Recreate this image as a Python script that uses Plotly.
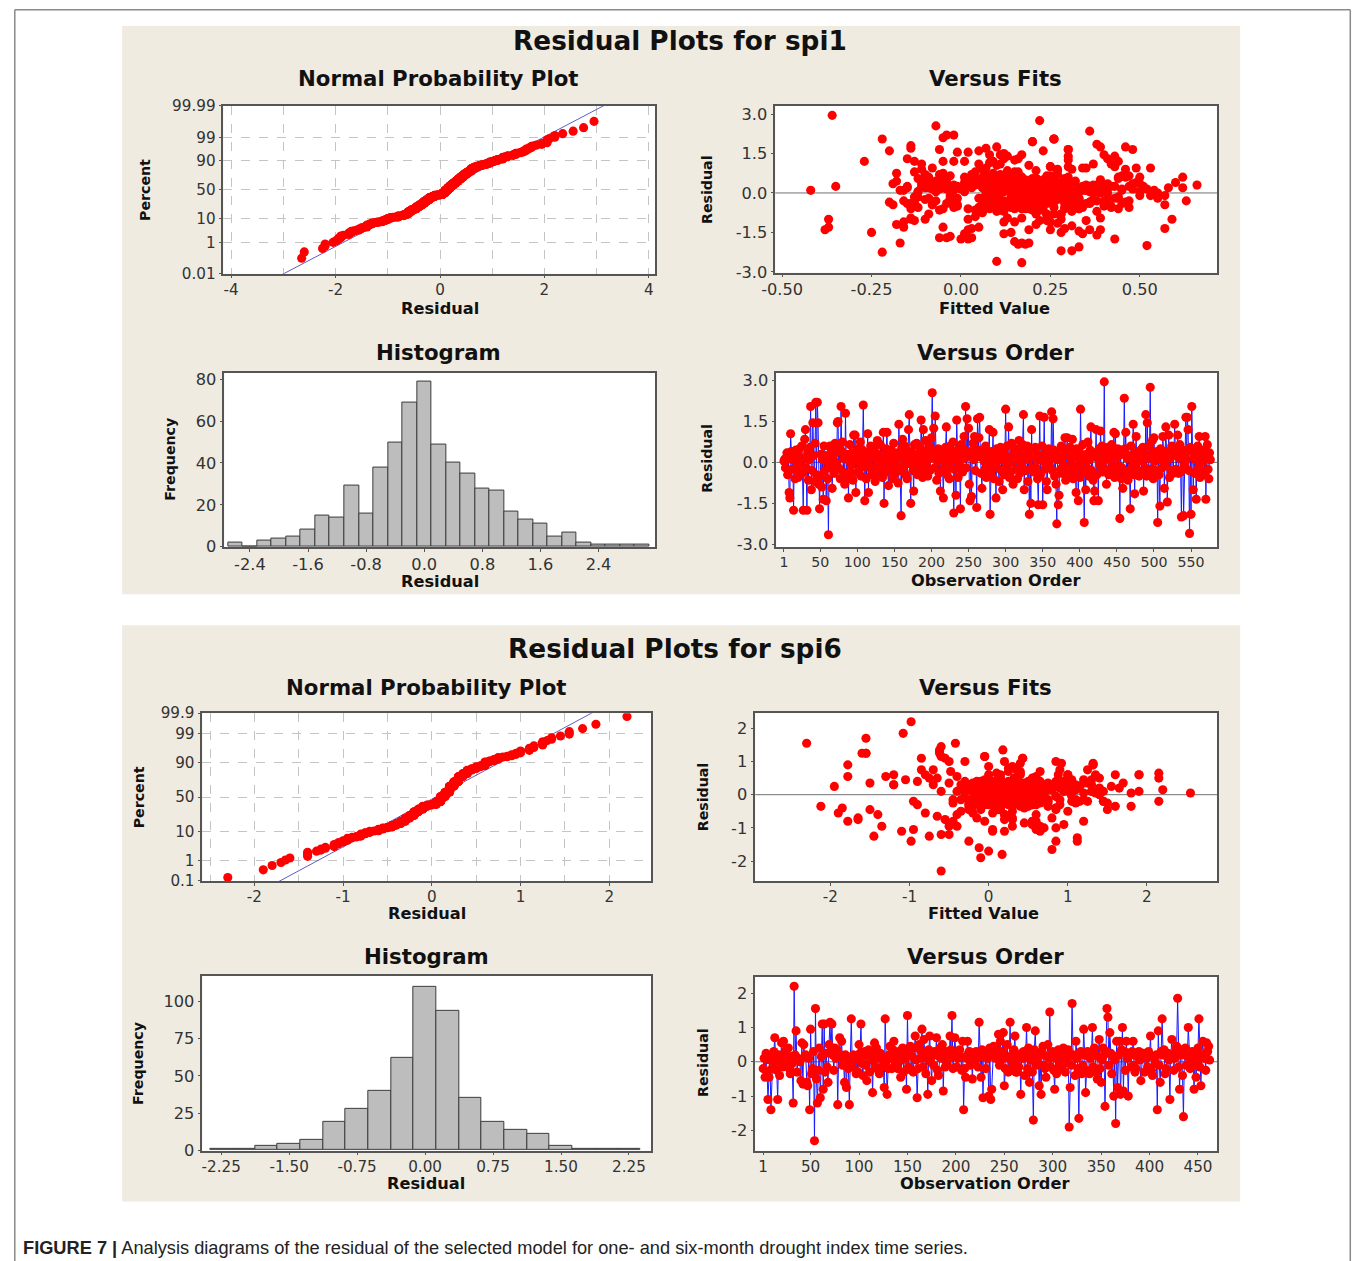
import plotly.graph_objects as go
from statistics import NormalDist, mean, stdev

# Layout is specified in target-image pixels (X, Y) and mapped onto the figure.
# The page photograph places the figure at (AX, AY) with a slight uniform shrink; compensate for it.
AX, AY, SX, SY = 15.0, 8.0, 0.988, 0.987
W = 1358
H = 1270
ND = NormalDist()
FONT = "DejaVu Sans"

# ---------------- data (residuals / fitted values in hundredths) ----------------
spi1_resid_x100 = [
    5, 12, -20, 8, 35, -45, 15, -110, -130, 105, 40, -25, 10, -175, 30, -60, 45, 20, -15, -55, 25, 50, -35, 0,
    60, -40, -175, 15, 85, 120, -20, -175, 35, -65, 10, 55, 205, -100, -30, 145, 25, -70, 70, 220, -45, 220, 145, -80,
    -170, -50, 30, -90, 10, -135, 60, -30, 25, -140, 5, -60, -265, 15, 60, -20, 45, -95, 25, 10, -40, 70, 35, -5,
    145, 150, -20, 55, -60, 205, 40, 75, -35, 15, -80, 180, 20, -55, 30, -130, 5, 65, -40, -10, 35, -65, 100, 10,
    100, -110, 25, -35, 50, 5, -25, 75, -50, 20, 45, 210, -15, -140, 30, -60, 10, 105, -110, 40, -20, 60, -45, 15,
    -30, 55, 20, -70, 35, -10, 80, 0, -45, 25, 65, -25, 10, -55, 110, -150, 40, -5, 50, 110, -35, -85, 15, 30,
    -20, 45, 5, -60, 70, 20, -40, 15, -10, 35, -75, 140, 25, -30, -195, 55, 85, -15, 10, 60, -45, 30, -60, 5,
    120, 175, -5, -150, 40, 20, -30, -105, 65, 10, -20, 70, -45, 30, 0, 55, -25, 155, 35, -55, 120, 15, -35, 80,
    -10, 45, -50, 25, 60, -30, 15, 90, 255, 40, 125, -20, 170, 35, -65, 5, 50, -40, 20, -105, 45, 10, -30, -130,
    30, -15, 55, 130, -45, 20, 5, -60, 60, 40, -20, 10, 75, -185, -25, 35, -120, 155, 45, -55, 20, -10, -170, 65,
    25, -35, 50, 95, 15, 205, -20, 160, 30, 125, -80, -140, 40, -125, 20, 70, 10, 95, -30, 35, -165, 160, 45, 90,
    165, 20, -40, -95, 25, 45, 5, -25, 60, -55, 15, -15, 30, 120, -190, -35, 40, 10, 110, -60, 25, -10, -130, 50,
    -20, 35, -70, 15, 55, -30, 10, -100, 45, -45, 25, 195, -15, 60, 5, 130, -55, 20, -35, 70, 0, -80, 40, 15,
    30, -25, 50, -60, 15, 80, -40, 5, 35, -15, 65, 175, -100, 20, -30, 45, 60, -70, 10, -190, 25, -150, 120, -20,
    40, -35, 15, 55, -20, 30, -60, -155, 10, 170, -45, 25, 60, -155, 5, 165, -25, 40, -70, -100, 20, 50, -10, 30,
    15, 185, -30, 160, 45, -50, 25, -80, -225, 10, -155, -120, 35, -25, 60, -40, 20, -10, 50, 90, -65, 30, 90, -35,
    25, -45, 55, -20, 10, 85, -60, 35, -30, -15, -110, 50, 20, -140, 40, -55, 195, 5, -25, 65, -35, -220, 15, -100,
    30, -20, 75, -50, 10, 45, 130, -30, 20, -65, -140, -105, 35, 120, -45, 15, -140, 50, -10, 115, 25, 60, -35, 5,
    295, -25, 40, -80, 15, 55, -45, 40, 10, -30, 65, -15, 35, 110, -55, 105, 20, -35, 50, -10, 25, -205, 45, -60,
    -20, -95, 30, 235, 50, 110, -40, 15, -65, 25, -30, -170, 60, 10, -15, 140, -45, -115, 35, 95, -25, 30, 5, -50,
    20, 45, -35, 10, 55, -105, 30, -20, 175, -50, 145, 15, -40, 60, 275, -25, 35, 80, -60, 90, 5, -30, 20, 40,
    -220, 25, -45, -160, 50, 10, -20, 95, 35, -95, -10, 130, 40, -145, 20, 100, -55, 15, -30, 60, 25, -40, 45, 140,
    30, -25, 50, 100, -40, 15, 65, -35, -200, 20, 45, -195, -10, 35, 165, 10, 165, 120, -30, -260, 55, -190, 205, 40,
    -100, 25, -40, 10, -135, 30, 60, -20, 95, -55, 15, 45, -30, 40, 5, -45, 95, -135, 20, 65, -25, -60, 35, 10,
]
spi1_fit_x100 = [
    12, 20, 5, 15, 28, -8, 18, 25, -37, 10, 22, 14, 8, 0, 30, 2, 17, 24, 9, -12, 35, 16, 21, 11,
    6, 19, 2, 27, 13, -5, 33, 43, 15, 23, -2, 9, -22, -37, 26, 40, 14, 31, 7, -4, 18, -2, 11, 21,
    -6, 16, 38, 4, 20, 3, 12, 29, -15, -38, 24, 8, 17, 34, 1, 19, 26, 13, -35, 22, 6, -10, 15, 28,
    8, 12, 23, 44, 18, 26, 3, -18, 31, 10, 24, -14, 16, 5, 37, -16, 21, 14, 29, -3, 48, 11, 25, 19,
    30, 15, -9, 22, 7, 36, 17, 13, 40, 1, 25, -5, 20, 2, 9, 33, -42, 19, 12, 6, 28, 50, -1, 14,
    18, 4, 27, 10, -11, 21, 16, 41, 8, 23, -3, 32, 13, 47, 5, -25, 19, 26, 14, 37, 9, 24, 0, 15,
    22, -7, 14, 29, 3, 18, 35, 11, 25, -19, 6, 13, 42, 20, 16, 2, 27, 9, 54, 17, 31, -2, 12, 24,
    1, 10, 19, 28, 7, 33, 15, 22, 45, 12, 26, -6, 17, 4, 39, 21, 8, 2, 30, 14, -27, 23, 11, -13,
    17, 25, 9, 36, 13, 20, -4, 6, -7, 28, 15, 43, -14, 11, 22, 31, 3, 18, 58, 24, 10, 16, 38, 5,
    -8, 27, 2, -15, 32, 8, -12, 12, 46, 18, -1, 29, -5, 15, 37, 6, -18, -1, 11, 34, -10, 9, 3, 26,
    20, -13, 39, 7, -6, 26, 16, -20, 10, 30, -9, 19, 4, 31, -15, 27, 35, 49, 12, -4, -3, 5, 18, -11,
    30, 11, -14, 17, 43, 8, -7, 33, 14, -2, -8, 16, 22, 9, -17, 36, 1, 25, -11, 19, 51, 7, -5, 23,
    15, -10, 6, 21, 12, 40, -16, 2, 25, 10, -6, 20, 14, 44, -12, 16, 29, 3, -20, 11, 55, 26, 8, -3,
    22, 9, -11, 17, 26, 4, -4, 37, 13, -13, 7, 46, 28, -7, 33, 19, -9, 12, -17, 17, 41, 14, -2, 27,
    10, -8, 16, 29, 6, 35, -14, 12, 25, 7, -19, 47, 14, 1, 32, -6, 27, 19, 38, -10, 13, 3, 30, 15,
    26, 38, 11, 23, 19, 42, 8, 28, -22, 16, 34, 21, 5, 30, 13, 24, 62, 17, 9, 31, 20, 14, 27, 36,
    18, 7, -12, 14, 37, 21, -5, 3, 16, 44, -16, 11, 26, 36, -9, 8, 20, 33, -3, 24, 12, 28, 40, -14,
    13, -9, 9, 20, 32, -18, 41, 24, 6, -6, 25, 35, 11, -13, 22, 48, 39, 14, 53, 8, -1, 17, 30, 1,
    -36, 19, 12, 28, 45, 7, 23, 16, 34, 10, 25, 20, 3, 42, 31, 43, 14, 26, 18, 57, 9, 33, 22, 15,
    21, 39, -7, 36, 26, 11, -15, 19, 4, 24, 47, -4, 30, 8, -12, 43, 13, 27, 50, -8, 29, 10, 38, -1,
    16, -6, 9, 35, 20, -13, 24, 44, 39, -2, 17, 52, 12, 26, 22, -10, 41, 15, 33, 46, 7, -16, 18, 30,
    31, 14, -8, 38, 21, 45, -3, 34, 18, -14, 24, 12, 49, 33, -5, 43, 26, 20, 37, 8, -11, 40, 15, 30,
    22, 41, -4, 25, 36, 28, 14, 46, 52, -9, 32, 18, 50, 3, 48, 37, 30, 44, -7, 10, 21, 19, 26, 60,
    59, 34, 45, 20, 29, 66, 62, 55, 53, 42, 38, 24, 63, 31, 50, 57, 35, 57, 41, 47, 26, 44, 39, 33,
]
spi6_resid_x100 = [
    -20, 10, -45, 25, -30, -110, -45, 5, -140, -20, 15, 30, 70, 0, -25, -110, 20, -40, 10, 55, -15, 60,
    25, -10, 35, 5, 40, -20, -35, 15, -5, -120, 220, 20, 90, -30, 10, 5, 0, -55, 55, -65, 50, 15,
    20, -60, -70, 10, -140, 95, -35, -20, 30, -230, 155, -50, -120, -25, 40, -105, 15, 110, -80, 110, -30, 25,
    -15, -60, 50, 115, 30, 110, 20, -25, 40, 10, 35, -125, 25, 70, 15, 60, -10, -5, -60, 20, -75, 5,
    -20, -125, 10, 125, -15, 20, 5, 15, -35, 10, -30, 50, 25, 110, -5, -40, 20, 30, -10, -55, 15, 35,
    -30, 20, 5, -90, 30, 55, -15, 40, 10, -25, -35, 25, 15, 10, -10, -75, 125, 0, -95, -20, 20, 45,
    10, -20, 35, 60, -10, 15, -5, -20, 30, 25, -45, 5, 40, -30, 30, 10, -80, 135, -15, 20, 45, -25,
    15, -30, 40, 75, 5, -105, -20, 50, 10, 30, 95, -15, 65, 25, -35, 10, -95, 35, 75, 0, -55, 20,
    -10, 30, 20, 70, -25, -40, 15, 40, 10, 50, -85, 25, -15, 30, -5, 20, 10, 75, 35, 135, -20, 20,
    70, 25, -15, 10, 20, 35, 15, -25, 60, -140, -20, -45, 10, 60, 25, 30, -10, 20, -50, 15, 5, 25,
    30, 10, -15, 115, 20, -45, 35, -105, 15, 30, -20, 25, 10, -100, 40, -110, -80, 20, 45, 20, 10, 40,
    20, 80, -10, 60, 5, 30, 85, -70, -20, 15, 50, -30, 10, 115, -25, 20, -5, 35, 75, -30, -30, 10,
    -15, 20, -95, 25, 10, 30, -40, 15, 100, -20, 40, -60, 5, 25, -30, -170, 35, 90, -10, 5, 25, -70,
    20, -95, 30, 45, -10, -20, -45, 15, 50, 10, 145, -15, 20, 30, -25, -80, 10, -35, 25, 35, -10, 20,
    -20, 15, 40, -5, -30, 25, 10, 35, -190, -75, -10, 170, 20, 15, -40, 60, 10, -20, -165, 25, 30, -35,
    -10, 95, 20, -90, -25, 30, 15, -35, 10, 25, 100, -15, 40, 20, -30, -50, 15, 65, -20, -60, 5, 40,
    20, -130, 30, 155, 130, -10, 85, 25, -35, 15, -100, 5, -180, 60, -75, 20, 60, -95, 35, 100, -85, 30,
    -25, 60, 10, -100, 25, 20, -15, 30, 60, -10, -30, -20, 15, 25, 30, 5, -55, 10, 25, 15, -30, 20,
    10, -15, 30, 20, 75, -25, -40, 15, 10, -5, 20, -140, 90, -10, -60, 30, 125, 20, 35, -35, -20, 15,
    25, 5, -110, 20, 65, 15, -25, 10, 30, 45, 185, -15, -80, 20, 35, -40, -160, 25, 40, -10, 15, 100,
    15, -20, 10, 30, -10, -80, 25, -45, 5, 40, 125, -15, -70, 20, 60, 10, 20, -25, 55, 30, 45, 5,
]
spi6_fit_x100 = [
    35, -60, 12, 80, -25, 5, -150, 48, -98, 20, 110, -120, 65, 140, -45, -110, 30, -185, 95, -178, 0, 160,
    -195, 45, -150, 70, -10, 125, -212, 25, 85, -50, -98, 60, -178, 15, 105, -30, 55, -190, -130, -65, -75, 38,
    50, -140, -165, 130, 85, 40, 180, -5, -35, -60, -42, 100, -60, 65, 10, -95, 75, -85, 120, 43, -90, 20,
    90, -40, 215, -5, -120, -55, 30, 150, 5, 62, -20, -145, 115, 40, 78, 135, -15, 55, 28, 95, -55, 10,
    60, -75, 25, -160, 110, -30, 70, 45, 15, 100, -10, 32, 85, 43, 5, -25, 140, 20, 55, -80, 35, -50,
    25, 90, -15, 95, 50, 60, 120, -90, 35, 75, -20, 10, 55, 145, -5, -165, -155, 40, -135, 105, 65, 130,
    -40, 30, 85, -120, 45, 110, -10, 70, 20, 155, -25, 5, 95, 60, -70, 130, -178, -62, 35, 80, -105, 15,
    30, 0, 85, -85, 20, 60, 45, -65, 50, 25, 132, -35, 40, 10, 160, 70, -50, 15, 35, 55, 5, 65,
    50, 35, -20, 25, 15, 85, 40, -30, 70, 140, 45, 10, -45, 100, 60, 5, 30, -70, 75, 18, -95, 40,
    -48, 20, 70, -10, 40, 170, 10, 35, 190, 112, 55, 15, 25, -80, 90, 0, 45, 65, 30, 40, 135, 15,
    -25, 45, 25, -5, 75, -10, 35, 5, 60, 10, 145, 40, -30, 85, 50, 20, -45, 165, -5, 95, 30, 15,
    40, 25, 70, 0, 50, 130, 30, 80, -15, 220, 15, 55, 35, -60, 110, -35, 65, 10, 90, 40, 5, 190,
    40, 10, -40, 35, -20, 55, 15, 80, -50, 25, -5, 60, 30, 20, -25, 0, 45, 132, 5, 70, 25, -15,
    20, 65, 40, 0, -30, 35, 150, -10, 55, 25, -60, 75, 15, 45, 20, -5, 95, 30, -15, 60, -20, 10,
    50, 10, 25, 85, -5, 20, 60, 40, -10, 30, 0, -155, 110, -15, 45, 15, 65, 30, 80, 20, 5, 50,
    15, 92, -10, 55, 35, -20, 80, 30, 5, 45, 20, 70, -15, 25, 55, -35, 40, 10, 145, 20, 180, 65,
    30, 112, 0, -230, -62, 25, 0, 55, 75, 15, 60, 120, 17, 88, 20, 100, 40, 30, 10, 85, 55, 25,
    45, 190, 15, 70, 0, 80, 30, 60, 100, 10, 40, 115, -10, 50, 20, 255, -20, 35, 55, 15, 90, 35,
    25, 60, 0, 95, 125, 45, 15, 75, 35, 105, 5, -25, 132, 50, 20, 65, -62, -5, 120, 40, 215, 20,
    55, 30, 65, 15, 215, 80, 40, -10, 70, 105, -108, 50, 60, 5, 125, 85, -12, 40, 100, 25, 65, -30,
    35, 75, 10, 110, 45, 55, 20, 85, -5, 95, -155, 50, 30, 70, 100, 25, 40, 60, -40, 80, 120, 50,
]

spi1_hist_centers = [-2.6, -2.4, -2.2, -2.0, -1.8, -1.6, -1.4, -1.2, -1.0, -0.8, -0.6, -0.4, -0.2, 0.0,
                     0.2, 0.4, 0.6, 0.8, 1.0, 1.2, 1.4, 1.6, 1.8, 2.0, 2.2, 2.4, 2.6, 2.8, 3.0]
spi1_hist_counts = [2, 0, 3, 4, 5, 8, 15, 14, 29, 16, 38, 50, 69, 79,
                    49, 40, 35, 28, 27, 17, 13, 11, 5, 7, 2, 1, 1, 1, 1]
spi6_hist_centers = [-2.25, -2.0, -1.75, -1.5, -1.25, -1.0, -0.75, -0.5, -0.25, 0.0,
                     0.25, 0.5, 0.75, 1.0, 1.25, 1.5, 1.75, 2.0, 2.25]
spi6_hist_counts = [1, 1, 3, 4, 7, 19, 28, 40, 62, 110, 94, 35, 19, 14, 11, 3, 1, 1, 1]

npp1_pct_ticks = [0.01, 1, 10, 50, 90, 99, 99.99]
npp1_pct_text = ["0.01", "1", "10", "50", "90", "99", "99.99"]
npp6_pct_ticks = [0.1, 1, 10, 50, 90, 99, 99.9]
npp6_pct_text = ["0.1", "1", "10", "50", "90", "99", "99.9"]

# ---------------- derived ----------------
n1 = min(len(spi1_resid_x100), len(spi1_fit_x100))
n6 = min(len(spi6_resid_x100), len(spi6_fit_x100))
r1 = [v / 100 for v in spi1_resid_x100[:n1]]
f1 = [v / 100 for v in spi1_fit_x100[:n1]]
r6 = [v / 100 for v in spi6_resid_x100[:n6]]
f6 = [v / 100 for v in spi6_fit_x100[:n6]]


def npp(res):
    s = sorted(res)
    n = len(s)
    z = [ND.inv_cdf((i - 0.3) / (n + 0.4)) for i in range(1, n + 1)]
    m, sd = mean(res), stdev(res)
    lz = [-4.5, 4.5]
    lx = [m + sd * q for q in lz]
    return s, z, lx, lz


def px(X):
    return ((X - AX) / SX) / W


def py(Y):
    return 1 - ((Y - AY) / SY) / H


def dom_x(a, b):
    return [px(a), px(b)]


def dom_y(a, b):
    return [py(b), py(a)]


def fs(v):
    return v / SY


RED = "#ff0000"
MS = fs(9)
fig = go.Figure()

# NPP spi1
s, z, lx, lz = npp(r1)
fig.add_trace(go.Scatter(x=lx, y=lz, mode="lines", line=dict(color="#5c5cc8", width=1), xaxis="x", yaxis="y"))
fig.add_trace(go.Scatter(x=s, y=z, mode="markers", marker=dict(color=RED, size=MS), xaxis="x", yaxis="y"))
# Fits spi1
fig.add_trace(go.Scatter(x=f1, y=r1, mode="markers", marker=dict(color=RED, size=MS), xaxis="x2", yaxis="y2"))
# Hist spi1
fig.add_trace(go.Bar(x=spi1_hist_centers, y=spi1_hist_counts, width=0.2,
                     marker=dict(color="#bdbdbd", line=dict(color="#3c3c3c", width=1)), xaxis="x3", yaxis="y3"))
# Order spi1
fig.add_trace(go.Scatter(x=list(range(1, n1 + 1)), y=r1, mode="lines+markers",
                         line=dict(color="#1a1aff", width=1), marker=dict(color=RED, size=MS),
                         xaxis="x4", yaxis="y4"))
# NPP spi6
s, z, lx, lz = npp(r6)
fig.add_trace(go.Scatter(x=lx, y=lz, mode="lines", line=dict(color="#5c5cc8", width=1), xaxis="x5", yaxis="y5"))
fig.add_trace(go.Scatter(x=s, y=z, mode="markers", marker=dict(color=RED, size=MS), xaxis="x5", yaxis="y5"))
# Fits spi6
fig.add_trace(go.Scatter(x=f6, y=r6, mode="markers", marker=dict(color=RED, size=MS), xaxis="x6", yaxis="y6"))
# Hist spi6
fig.add_trace(go.Bar(x=spi6_hist_centers, y=spi6_hist_counts, width=0.25,
                     marker=dict(color="#bdbdbd", line=dict(color="#3c3c3c", width=1)), xaxis="x7", yaxis="y7"))
# Order spi6
fig.add_trace(go.Scatter(x=list(range(1, n6 + 1)), y=r6, mode="lines+markers",
                         line=dict(color="#1a1aff", width=1), marker=dict(color=RED, size=MS),
                         xaxis="x8", yaxis="y8"))


def ax(box, rng, vals, text, horiz, grid=None, minor=None, fsize=15):
    x0, x1, y0, y1 = box
    d = dict(range=rng, tickmode="array", tickvals=vals, ticktext=text,
             showline=True, mirror=True, linecolor="#555555", linewidth=1.5,
             ticks="outside", ticklen=3, tickwidth=1, tickcolor="#555555",
             zeroline=False, showgrid=False,
             tickfont=dict(family=FONT, size=fs(fsize), color="#333333"), fixedrange=True)
    if horiz:
        d["domain"] = dom_x(x0, x1)
        d["ticklabelstandoff"] = -2
    else:
        d["domain"] = dom_y(y0, y1)
    if grid:
        d.update(showgrid=True, gridcolor="#c4c4c4", gridwidth=1, griddash="dash")
    if minor is not None:
        d["minor"] = dict(tickmode="array", tickvals=minor, ticks="", showgrid=True,
                          gridcolor="#c4c4c4", gridwidth=1, griddash="dash")
    return d


boxes = {
    1: (224, 655, 105, 273),
    2: (775, 1216, 105, 272),
    3: (225, 655, 372, 547),
    4: (776, 1216, 372, 547),
    5: (203, 651, 713, 881),
    6: (755, 1216, 713, 881),
    7: (203, 651, 976, 1151),
    8: (755, 1216, 977, 1151),
}

z1max = -ND.inv_cdf(0.0001)
z6max = -ND.inv_cdf(0.001)

layout_axes = {}
# 1 NPP spi1
layout_axes["xaxis"] = ax(boxes[1], [-4.15, 4.12], [-4, -2, 0, 2, 4], ["-4", "-2", "0", "2", "4"], True,
                          grid=True, minor=[-3, -1, 1, 3])
layout_axes["yaxis"] = ax(boxes[1], [-z1max, z1max], [ND.inv_cdf(p / 100) for p in npp1_pct_ticks],
                          npp1_pct_text, False, grid=True)
# 2 Fits spi1
layout_axes["xaxis2"] = ax(boxes[2], [-0.519, 0.716], [-0.5, -0.25, 0, 0.25, 0.5],
                           ["-0.50", "-0.25", "0.00", "0.25", "0.50"], True, fsize=16)
layout_axes["yaxis2"] = ax(boxes[2], [-3.03, 3.31], [-3, -1.5, 0, 1.5, 3],
                           ["-3.0", "-1.5", "0.0", "1.5", "3.0"], False, fsize=16)
# 3 Hist spi1
layout_axes["xaxis3"] = ax(boxes[3], [-2.752, 3.179], [-2.4, -1.6, -0.8, 0, 0.8, 1.6, 2.4],
                           ["-2.4", "-1.6", "-0.8", "0.0", "0.8", "1.6", "2.4"], True, fsize=16)
layout_axes["yaxis3"] = ax(boxes[3], [-0.3, 83.2], [0, 20, 40, 60, 80], ["0", "20", "40", "60", "80"], False,
                           fsize=16)
# 4 Order spi1
ord1 = [1, 50, 100, 150, 200, 250, 300, 350, 400, 450, 500, 550]
layout_axes["xaxis4"] = ax(boxes[4], [-9.3, 585.1], ord1, [str(v) for v in ord1], True, fsize=14)
layout_axes["yaxis4"] = ax(boxes[4], [-3.11, 3.29], [-3, -1.5, 0, 1.5, 3],
                           ["-3.0", "-1.5", "0.0", "1.5", "3.0"], False, fsize=16)
# 5 NPP spi6
layout_axes["xaxis5"] = ax(boxes[5], [-2.587, 2.472], [-2, -1, 0, 1, 2], ["-2", "-1", "0", "1", "2"], True,
                           grid=True, minor=[-2.5, -1.5, -0.5, 0.5, 1.5])
layout_axes["yaxis5"] = ax(boxes[5], [-z6max, z6max], [ND.inv_cdf(p / 100) for p in npp6_pct_ticks],
                           npp6_pct_text, False, grid=True)
# 6 Fits spi6
layout_axes["xaxis6"] = ax(boxes[6], [-2.949, 2.886], [-2, -1, 0, 1, 2], ["-2", "-1", "0", "1", "2"], True)
layout_axes["yaxis6"] = ax(boxes[6], [-2.60, 2.458], [-2, -1, 0, 1, 2], ["-2", "-1", "0", "1", "2"], False,
                           fsize=16)
# 7 Hist spi6
layout_axes["xaxis7"] = ax(boxes[7], [-2.458, 2.494], [-2.25, -1.5, -0.75, 0, 0.75, 1.5, 2.25],
                           ["-2.25", "-1.50", "-0.75", "0.00", "0.75", "1.50", "2.25"], True)
layout_axes["yaxis7"] = ax(boxes[7], [-0.3, 117.2], [0, 25, 50, 75, 100], ["0", "25", "50", "75", "100"], False,
                           fsize=16)
# 8 Order spi6
ord6 = [1, 50, 100, 150, 200, 250, 300, 350, 400, 450]
layout_axes["xaxis8"] = ax(boxes[8], [-7.15, 469.7], ord6, [str(v) for v in ord6], True, fsize=15)
layout_axes["yaxis8"] = ax(boxes[8], [-2.59, 2.475], [-2, -1, 0, 1, 2], ["-2", "-1", "0", "1", "2"], False,
                           fsize=16)

for i in range(1, 9):
    sfx = "" if i == 1 else str(i)
    layout_axes["xaxis" + sfx]["anchor"] = "y" + sfx
    layout_axes["yaxis" + sfx]["anchor"] = "x" + sfx

# ---------------- shapes ----------------
shapes = []
BEIGE = "#f0ebe1"
for (x0, y0, x1, y1) in [(123, 25, 1239, 594), (123, 625, 1239, 1202)]:
    shapes.append(dict(type="rect", xref="paper", yref="paper", x0=px(x0), x1=px(x1),
                       y0=py(y1), y1=py(y0), fillcolor=BEIGE, line=dict(width=0), layer="below"))
for k, (x0, x1, y0, y1) in boxes.items():
    shapes.append(dict(type="rect", xref="paper", yref="paper", x0=px(x0), x1=px(x1),
                       y0=py(y1), y1=py(y0), fillcolor="white", line=dict(width=0), layer="below"))
for k in [2, 4, 6, 8]:
    shapes.append(dict(type="line", xref=f"x{k} domain", yref=f"y{k}", x0=0, x1=1, y0=0, y1=0,
                       line=dict(color="#707070", width=1), layer="below"))
BORDER = "#8a8a8a"
bl = max(px(8), 0.8 / W)
br = px(1349)
bt = min(py(7), 1 - 0.8 / H)
shapes.append(dict(type="line", xref="paper", yref="paper", x0=bl, x1=br, y0=bt, y1=bt,
                   line=dict(color=BORDER, width=1.5)))
shapes.append(dict(type="line", xref="paper", yref="paper", x0=bl, x1=bl, y0=0, y1=bt,
                   line=dict(color=BORDER, width=1.5)))
shapes.append(dict(type="line", xref="paper", yref="paper", x0=br, x1=br, y0=0, y1=bt,
                   line=dict(color=BORDER, width=1.5)))

# ---------------- annotations ----------------
labels = [
    ("Residual Plots for spi1", 680, 40, 26, 0),
    ("Normal Probability Plot", 439, 78, 21, 0),
    ("Versus Fits", 995, 78, 21, 0),
    ("Histogram", 439, 352, 21, 0),
    ("Versus Order", 995, 352, 21, 0),
    ("Residual", 440, 308, 16, 0),
    ("Fitted Value", 994, 308, 16, 0),
    ("Residual", 440, 581, 16, 0),
    ("Observation Order", 995, 580, 16, 0),
    ("Percent", 146, 189, 14, -90),
    ("Residual", 707, 189, 14, -90),
    ("Frequency", 171, 459, 14, -90),
    ("Residual", 707, 458, 14, -90),
    ("Residual Plots for spi6", 675, 649, 26, 0),
    ("Normal Probability Plot", 427, 687, 21, 0),
    ("Versus Fits", 985, 687, 21, 0),
    ("Histogram", 427, 957, 21, 0),
    ("Versus Order", 985, 957, 21, 0),
    ("Residual", 427, 914, 16, 0),
    ("Fitted Value", 983, 914, 16, 0),
    ("Residual", 426, 1184, 16, 0),
    ("Observation Order", 984, 1184, 16, 0),
    ("Percent", 140, 797, 14, -90),
    ("Residual", 703, 797, 14, -90),
    ("Frequency", 139, 1064, 14, -90),
    ("Residual", 703, 1063, 14, -90),
]
annotations = []
for text, x, y, size, ang in labels:
    annotations.append(dict(text=f"<b>{text}</b>", x=px(x), y=py(y), xref="paper", yref="paper",
                            xanchor="center", yanchor="middle", showarrow=False, textangle=ang,
                            font=dict(family=FONT, size=fs(size), color="#111111")))
annotations.append(dict(
    text="<b>FIGURE 7 |</b> Analysis diagrams of the residual of the selected model for one- and six-month drought index time series.",
    x=px(22), y=py(1248), xref="paper", yref="paper", xanchor="left", yanchor="middle", showarrow=False,
    font=dict(family="Liberation Sans, Arial, sans-serif", size=fs(18), color="#222222")))

fig.update_layout(
    width=W, height=H, margin=dict(l=0, r=0, t=0, b=0, pad=0),
    paper_bgcolor="white", plot_bgcolor="rgba(0,0,0,0)",
    showlegend=False, bargap=0, shapes=shapes, annotations=annotations,
    **layout_axes,
)

fig.write_html("out.html")
